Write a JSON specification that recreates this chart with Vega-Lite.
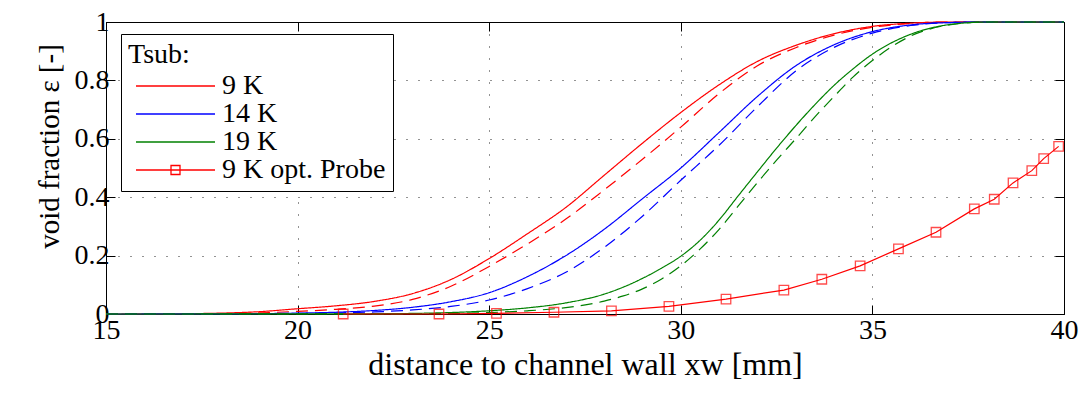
{
  "$schema": "https://vega.github.io/schema/vega-lite/v6.json",
  "width": 958,
  "height": 292,
  "autosize": {"type": "none"},
  "padding": {"left": 106, "top": 22, "right": 21, "bottom": 80},
  "config": {
    "font": "Liberation Serif",
    "view": {"stroke": "#000", "strokeWidth": 1},
    "style": {"guide-label": {"font": "Liberation Serif"}, "guide-title": {"font": "Liberation Serif"}},
    "axis": {"domainColor": "#000", "tickColor": "#000", "labelColor": "#000", "titleColor": "#000", "labelFont": "Liberation Serif", "titleFont": "Liberation Serif", "titleFontWeight": "normal"}
  },
  "datasets": {
    "curves": [
      {"T": "9 K", "line": "solid", "x": 15, "y": 0},
      {"T": "9 K", "line": "solid", "x": 16, "y": 0.0003},
      {"T": "9 K", "line": "solid", "x": 17, "y": 0.001},
      {"T": "9 K", "line": "solid", "x": 18, "y": 0.003},
      {"T": "9 K", "line": "solid", "x": 19, "y": 0.008},
      {"T": "9 K", "line": "solid", "x": 20, "y": 0.018},
      {"T": "9 K", "line": "solid", "x": 21, "y": 0.028},
      {"T": "9 K", "line": "solid", "x": 22, "y": 0.043},
      {"T": "9 K", "line": "solid", "x": 23, "y": 0.07},
      {"T": "9 K", "line": "solid", "x": 24, "y": 0.118},
      {"T": "9 K", "line": "solid", "x": 25, "y": 0.19},
      {"T": "9 K", "line": "solid", "x": 26, "y": 0.275},
      {"T": "9 K", "line": "solid", "x": 27, "y": 0.365},
      {"T": "9 K", "line": "solid", "x": 28, "y": 0.475},
      {"T": "9 K", "line": "solid", "x": 29, "y": 0.585},
      {"T": "9 K", "line": "solid", "x": 30, "y": 0.69},
      {"T": "9 K", "line": "solid", "x": 31, "y": 0.785},
      {"T": "9 K", "line": "solid", "x": 32, "y": 0.865},
      {"T": "9 K", "line": "solid", "x": 33, "y": 0.92},
      {"T": "9 K", "line": "solid", "x": 34, "y": 0.96},
      {"T": "9 K", "line": "solid", "x": 35, "y": 0.985},
      {"T": "9 K", "line": "solid", "x": 36, "y": 0.996},
      {"T": "9 K", "line": "solid", "x": 37, "y": 1},
      {"T": "9 K", "line": "solid", "x": 40, "y": 1},
      {"T": "9 K", "line": "dashed", "x": 15, "y": 0},
      {"T": "9 K", "line": "dashed", "x": 17, "y": 0.0005},
      {"T": "9 K", "line": "dashed", "x": 18, "y": 0.001},
      {"T": "9 K", "line": "dashed", "x": 19, "y": 0.004},
      {"T": "9 K", "line": "dashed", "x": 20, "y": 0.009},
      {"T": "9 K", "line": "dashed", "x": 21, "y": 0.016},
      {"T": "9 K", "line": "dashed", "x": 22, "y": 0.027},
      {"T": "9 K", "line": "dashed", "x": 23, "y": 0.05},
      {"T": "9 K", "line": "dashed", "x": 24, "y": 0.095},
      {"T": "9 K", "line": "dashed", "x": 25, "y": 0.163},
      {"T": "9 K", "line": "dashed", "x": 26, "y": 0.24},
      {"T": "9 K", "line": "dashed", "x": 27, "y": 0.325},
      {"T": "9 K", "line": "dashed", "x": 28, "y": 0.425},
      {"T": "9 K", "line": "dashed", "x": 29, "y": 0.53},
      {"T": "9 K", "line": "dashed", "x": 30, "y": 0.64},
      {"T": "9 K", "line": "dashed", "x": 31, "y": 0.755},
      {"T": "9 K", "line": "dashed", "x": 32, "y": 0.85},
      {"T": "9 K", "line": "dashed", "x": 33, "y": 0.912},
      {"T": "9 K", "line": "dashed", "x": 34, "y": 0.955},
      {"T": "9 K", "line": "dashed", "x": 35, "y": 0.982},
      {"T": "9 K", "line": "dashed", "x": 36, "y": 0.995},
      {"T": "9 K", "line": "dashed", "x": 37, "y": 1},
      {"T": "9 K", "line": "dashed", "x": 40, "y": 1},
      {"T": "14 K", "line": "solid", "x": 15, "y": 0},
      {"T": "14 K", "line": "solid", "x": 18, "y": 0.0005},
      {"T": "14 K", "line": "solid", "x": 20, "y": 0.003},
      {"T": "14 K", "line": "solid", "x": 21, "y": 0.006},
      {"T": "14 K", "line": "solid", "x": 22, "y": 0.012},
      {"T": "14 K", "line": "solid", "x": 23, "y": 0.023},
      {"T": "14 K", "line": "solid", "x": 24, "y": 0.042},
      {"T": "14 K", "line": "solid", "x": 25, "y": 0.073},
      {"T": "14 K", "line": "solid", "x": 26, "y": 0.128},
      {"T": "14 K", "line": "solid", "x": 27, "y": 0.2},
      {"T": "14 K", "line": "solid", "x": 28, "y": 0.29},
      {"T": "14 K", "line": "solid", "x": 29, "y": 0.395},
      {"T": "14 K", "line": "solid", "x": 30, "y": 0.5},
      {"T": "14 K", "line": "solid", "x": 31, "y": 0.622},
      {"T": "14 K", "line": "solid", "x": 32, "y": 0.745},
      {"T": "14 K", "line": "solid", "x": 33, "y": 0.85},
      {"T": "14 K", "line": "solid", "x": 34, "y": 0.922},
      {"T": "14 K", "line": "solid", "x": 35, "y": 0.967},
      {"T": "14 K", "line": "solid", "x": 36, "y": 0.99},
      {"T": "14 K", "line": "solid", "x": 37, "y": 0.998},
      {"T": "14 K", "line": "solid", "x": 38, "y": 1},
      {"T": "14 K", "line": "solid", "x": 40, "y": 1},
      {"T": "14 K", "line": "dashed", "x": 15, "y": 0},
      {"T": "14 K", "line": "dashed", "x": 20, "y": 0.002},
      {"T": "14 K", "line": "dashed", "x": 21, "y": 0.004},
      {"T": "14 K", "line": "dashed", "x": 22, "y": 0.007},
      {"T": "14 K", "line": "dashed", "x": 23, "y": 0.014},
      {"T": "14 K", "line": "dashed", "x": 24, "y": 0.026},
      {"T": "14 K", "line": "dashed", "x": 25, "y": 0.048},
      {"T": "14 K", "line": "dashed", "x": 26, "y": 0.087},
      {"T": "14 K", "line": "dashed", "x": 27, "y": 0.143},
      {"T": "14 K", "line": "dashed", "x": 28, "y": 0.228},
      {"T": "14 K", "line": "dashed", "x": 29, "y": 0.335},
      {"T": "14 K", "line": "dashed", "x": 30, "y": 0.458},
      {"T": "14 K", "line": "dashed", "x": 31, "y": 0.578},
      {"T": "14 K", "line": "dashed", "x": 32, "y": 0.71},
      {"T": "14 K", "line": "dashed", "x": 33, "y": 0.832},
      {"T": "14 K", "line": "dashed", "x": 34, "y": 0.913},
      {"T": "14 K", "line": "dashed", "x": 35, "y": 0.962},
      {"T": "14 K", "line": "dashed", "x": 36, "y": 0.988},
      {"T": "14 K", "line": "dashed", "x": 37, "y": 0.998},
      {"T": "14 K", "line": "dashed", "x": 38, "y": 1},
      {"T": "14 K", "line": "dashed", "x": 40, "y": 1},
      {"T": "19 K", "line": "solid", "x": 15, "y": 0},
      {"T": "19 K", "line": "solid", "x": 20, "y": 0.0003},
      {"T": "19 K", "line": "solid", "x": 22, "y": 0.001},
      {"T": "19 K", "line": "solid", "x": 23, "y": 0.002},
      {"T": "19 K", "line": "solid", "x": 24, "y": 0.005},
      {"T": "19 K", "line": "solid", "x": 25, "y": 0.011},
      {"T": "19 K", "line": "solid", "x": 26, "y": 0.021},
      {"T": "19 K", "line": "solid", "x": 27, "y": 0.038},
      {"T": "19 K", "line": "solid", "x": 28, "y": 0.068},
      {"T": "19 K", "line": "solid", "x": 28.5, "y": 0.092},
      {"T": "19 K", "line": "solid", "x": 29, "y": 0.122},
      {"T": "19 K", "line": "solid", "x": 29.5, "y": 0.157},
      {"T": "19 K", "line": "solid", "x": 30, "y": 0.198},
      {"T": "19 K", "line": "solid", "x": 30.5, "y": 0.252},
      {"T": "19 K", "line": "solid", "x": 31, "y": 0.322},
      {"T": "19 K", "line": "solid", "x": 31.5, "y": 0.405},
      {"T": "19 K", "line": "solid", "x": 32, "y": 0.487},
      {"T": "19 K", "line": "solid", "x": 32.5, "y": 0.568},
      {"T": "19 K", "line": "solid", "x": 33, "y": 0.645},
      {"T": "19 K", "line": "solid", "x": 33.5, "y": 0.717},
      {"T": "19 K", "line": "solid", "x": 34, "y": 0.783},
      {"T": "19 K", "line": "solid", "x": 34.5, "y": 0.84},
      {"T": "19 K", "line": "solid", "x": 35, "y": 0.89},
      {"T": "19 K", "line": "solid", "x": 36, "y": 0.958},
      {"T": "19 K", "line": "solid", "x": 37, "y": 0.991},
      {"T": "19 K", "line": "solid", "x": 38, "y": 1},
      {"T": "19 K", "line": "solid", "x": 40, "y": 1},
      {"T": "19 K", "line": "dashed", "x": 15, "y": 0},
      {"T": "19 K", "line": "dashed", "x": 20, "y": 0.0002},
      {"T": "19 K", "line": "dashed", "x": 22, "y": 0.0005},
      {"T": "19 K", "line": "dashed", "x": 24, "y": 0.002},
      {"T": "19 K", "line": "dashed", "x": 25, "y": 0.005},
      {"T": "19 K", "line": "dashed", "x": 26, "y": 0.011},
      {"T": "19 K", "line": "dashed", "x": 27, "y": 0.022},
      {"T": "19 K", "line": "dashed", "x": 28, "y": 0.044},
      {"T": "19 K", "line": "dashed", "x": 28.5, "y": 0.062},
      {"T": "19 K", "line": "dashed", "x": 29, "y": 0.086},
      {"T": "19 K", "line": "dashed", "x": 29.5, "y": 0.12},
      {"T": "19 K", "line": "dashed", "x": 30, "y": 0.165},
      {"T": "19 K", "line": "dashed", "x": 30.5, "y": 0.222},
      {"T": "19 K", "line": "dashed", "x": 31, "y": 0.29},
      {"T": "19 K", "line": "dashed", "x": 31.5, "y": 0.37},
      {"T": "19 K", "line": "dashed", "x": 32, "y": 0.45},
      {"T": "19 K", "line": "dashed", "x": 32.5, "y": 0.527},
      {"T": "19 K", "line": "dashed", "x": 33, "y": 0.6},
      {"T": "19 K", "line": "dashed", "x": 33.5, "y": 0.675},
      {"T": "19 K", "line": "dashed", "x": 34, "y": 0.745},
      {"T": "19 K", "line": "dashed", "x": 34.5, "y": 0.812},
      {"T": "19 K", "line": "dashed", "x": 35, "y": 0.868},
      {"T": "19 K", "line": "dashed", "x": 36, "y": 0.952},
      {"T": "19 K", "line": "dashed", "x": 37, "y": 0.99},
      {"T": "19 K", "line": "dashed", "x": 38, "y": 1},
      {"T": "19 K", "line": "dashed", "x": 40, "y": 1}
    ],
    "probe": [
      {"T": "9 K opt. Probe", "x": 21.19, "y": 0.0},
      {"T": "9 K opt. Probe", "x": 23.69, "y": 0.0},
      {"T": "9 K opt. Probe", "x": 25.19, "y": 0.002},
      {"T": "9 K opt. Probe", "x": 26.69, "y": 0.006},
      {"T": "9 K opt. Probe", "x": 28.19, "y": 0.011},
      {"T": "9 K opt. Probe", "x": 29.69, "y": 0.026},
      {"T": "9 K opt. Probe", "x": 31.18, "y": 0.051},
      {"T": "9 K opt. Probe", "x": 32.69, "y": 0.082},
      {"T": "9 K opt. Probe", "x": 33.68, "y": 0.119},
      {"T": "9 K opt. Probe", "x": 34.68, "y": 0.165},
      {"T": "9 K opt. Probe", "x": 35.68, "y": 0.223},
      {"T": "9 K opt. Probe", "x": 36.66, "y": 0.28},
      {"T": "9 K opt. Probe", "x": 37.66, "y": 0.36},
      {"T": "9 K opt. Probe", "x": 38.18, "y": 0.393},
      {"T": "9 K opt. Probe", "x": 38.67, "y": 0.449},
      {"T": "9 K opt. Probe", "x": 39.16, "y": 0.491},
      {"T": "9 K opt. Probe", "x": 39.47, "y": 0.532},
      {"T": "9 K opt. Probe", "x": 39.86, "y": 0.574}
    ]
  },
  "layer": [
    {
      "data": {"name": "curves"},
      "mark": {"type": "line", "interpolate": "monotone", "strokeWidth": 1.2},
      "encoding": {
        "x": {
          "field": "x", "type": "quantitative",
          "scale": {"domain": [15, 40], "nice": false, "zero": false},
          "axis": {"orient": "bottom", "values": [15, 20, 25, 30, 35, 40], "title": "distance to channel wall xw [mm]", "labelFont": "Liberation Serif", "titleFont": "Liberation Serif", "labelFontSize": 28, "titleFontSize": 32, "grid": true, "gridColor": "#000", "gridDash": [1, 11], "gridOpacity": 0.85, "tickSize": -9, "labelPadding": 11, "titlePadding": 5, "labelFlush": false}
        },
        "y": {
          "field": "y", "type": "quantitative",
          "scale": {"domain": [0, 1], "nice": false},
          "axis": {"orient": "left", "values": [0, 0.2, 0.4, 0.6, 0.8, 1], "format": ".1~f", "title": "void fraction ε [-]", "labelFont": "Liberation Serif", "titleFont": "Liberation Serif", "labelFontSize": 28, "titleFontSize": 29, "grid": true, "gridColor": "#000", "gridDash": [1, 11], "gridOpacity": 0.85, "tickSize": -9, "labelPadding": 6, "titlePadding": 10, "titleY": 124, "labelFlush": false}
        },
        "color": {
          "field": "T", "type": "nominal",
          "scale": {"domain": ["9 K", "14 K", "19 K", "9 K opt. Probe"], "range": ["#ff0000", "#0000ff", "#008000", "#ff0000"]},
          "legend": {
            "title": "Tsub:",
            "orient": "none", "legendX": 15, "legendY": 12,
            "strokeColor": "#000", "fillColor": "#fff", "padding": 7,
            "titleFont": "Liberation Serif", "titleFontSize": 28, "titleFontWeight": "normal", "titleColor": "#000", "titlePadding": 3,
            "labelFont": "Liberation Serif", "labelFontSize": 28, "labelColor": "#000", "labelOffset": 66, "labelLimit": 400,
            "symbolSize": 100, "symbolStrokeWidth": 1.3, "rowPadding": -1.3,
            "encode": {
              "symbols": {
                "update": {
                  "shape": {"signal": "datum.value === '9 K opt. Probe' ? 'M-1.2,0L14.6,0M5.8,-0.9L7.6,-0.9L7.6,0.9L5.8,0.9Z' : 'M-1.2,0L14.6,0'"},
                  "fill": {"value": "transparent"}
                }
              }
            }
          }
        },
        "strokeDash": {
          "field": "line", "type": "nominal",
          "scale": {"domain": ["solid", "dashed"], "range": [[1, 0], [12, 7]]},
          "legend": null
        }
      }
    },
    {
      "data": {"name": "probe"},
      "mark": {"type": "line", "strokeWidth": 1.2},
      "encoding": {
        "x": {"field": "x", "type": "quantitative", "axis": {"orient": "top", "values": [15, 20, 25, 30, 35, 40], "labels": false, "title": null, "grid": false, "domain": false, "tickSize": -9}},
        "y": {"field": "y", "type": "quantitative", "axis": {"orient": "right", "values": [0, 0.2, 0.4, 0.6, 0.8, 1], "labels": false, "title": null, "grid": false, "domain": false, "tickSize": -9}},
        "color": {"field": "T", "type": "nominal"}
      }
    },
    {
      "data": {"name": "probe"},
      "mark": {"type": "point", "shape": "square", "filled": false, "size": 90, "strokeWidth": 1.3},
      "encoding": {
        "x": {"field": "x", "type": "quantitative", "axis": null},
        "y": {"field": "y", "type": "quantitative", "axis": null},
        "color": {"field": "T", "type": "nominal"}
      }
    }
  ],
  "resolve": {"axis": {"x": "independent", "y": "independent"}}
}
